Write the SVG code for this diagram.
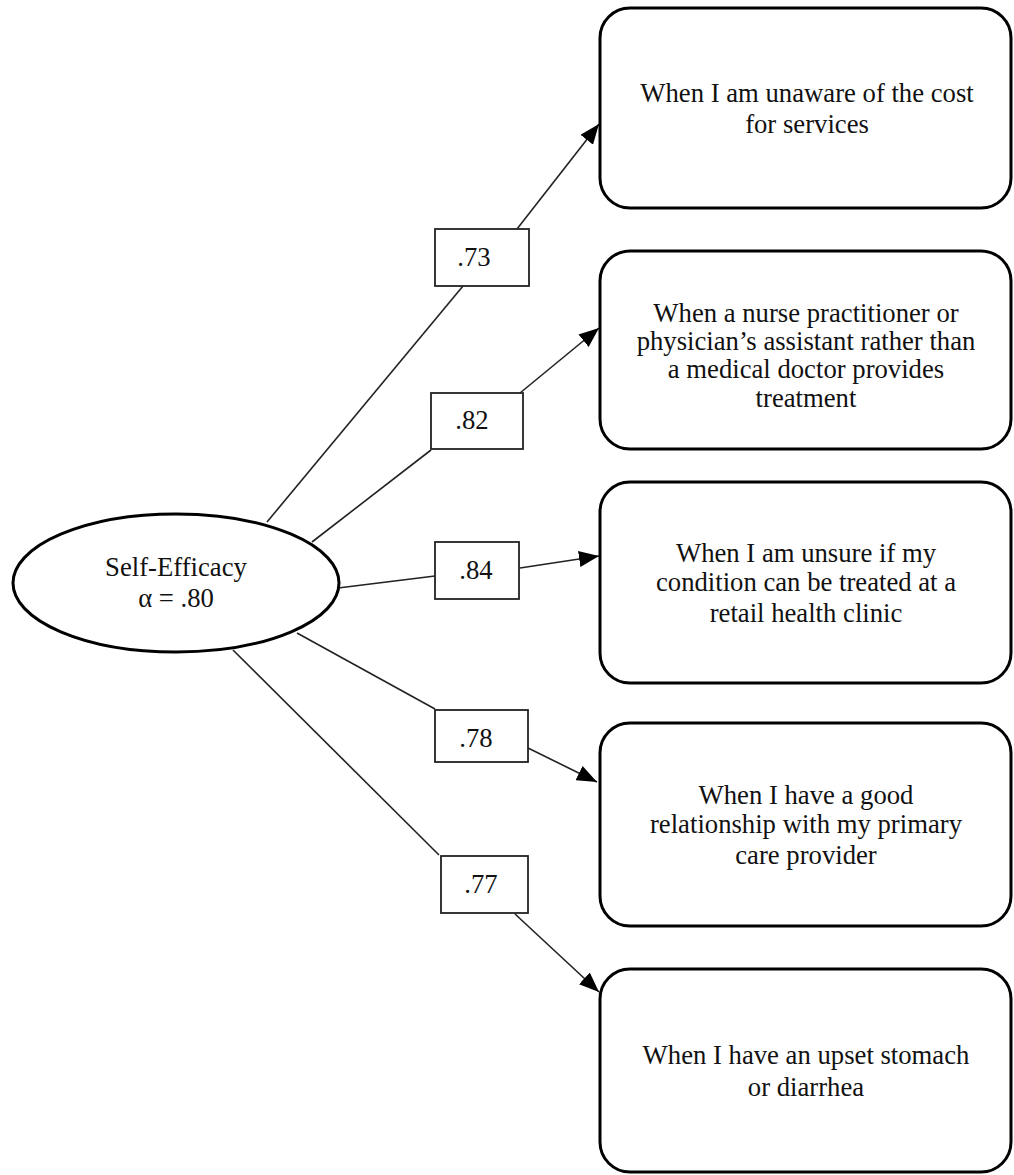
<svg xmlns="http://www.w3.org/2000/svg" width="1014" height="1175" viewBox="0 0 1014 1175">
<style>
  text { font-family: "Liberation Serif", "Times New Roman", serif; font-size: 26.7px; fill: #111; text-anchor: middle; }
  .item { fill: #fff; stroke: #000; stroke-width: 3; }
  .latent { fill: #fff; stroke: #000; stroke-width: 3; }
  .lbl { fill: #fff; stroke: #222; stroke-width: 1.8; }
  .conn { stroke: #222; stroke-width: 1.6; fill: none; }
</style>
<defs>
  <marker id="arrow" markerUnits="userSpaceOnUse" markerWidth="20" markerHeight="16" refX="20" refY="8" orient="auto">
    <path d="M0,0 L20,8 L0,16 z" fill="#000"/>
  </marker>
</defs>
<rect width="1014" height="1175" fill="#fff"/>

<g id="connectors">
  <line class="conn" x1="267" y1="522" x2="463" y2="286"/>
  <line class="conn" x1="517" y1="229" x2="599" y2="124" marker-end="url(#arrow)"/>
  <line class="conn" x1="312" y1="542" x2="431" y2="450"/>
  <line class="conn" x1="520" y1="393" x2="599" y2="328" marker-end="url(#arrow)"/>
  <line class="conn" x1="338" y1="588" x2="435" y2="576"/>
  <line class="conn" x1="520" y1="568" x2="599" y2="556" marker-end="url(#arrow)"/>
  <line class="conn" x1="297" y1="633" x2="435" y2="709"/>
  <line class="conn" x1="528" y1="748" x2="597" y2="782" marker-end="url(#arrow)"/>
  <line class="conn" x1="233" y1="650" x2="439" y2="855"/>
  <line class="conn" x1="515" y1="914" x2="599" y2="992" marker-end="url(#arrow)"/>
</g>

<g id="labels">
  <g id="label-73"><rect class="lbl" x="435" y="229" width="94" height="57"/><text x="474" y="266">.73</text></g>
  <g id="label-82"><rect class="lbl" x="431" y="393" width="92" height="56"/><text x="472" y="429">.82</text></g>
  <g id="label-84"><rect class="lbl" x="435" y="542" width="84" height="57"/><text x="476" y="579">.84</text></g>
  <g id="label-78"><rect class="lbl" x="435" y="710" width="93" height="52"/><text x="476" y="747">.78</text></g>
  <g id="label-77"><rect class="lbl" x="441" y="856" width="87" height="57"/><text x="481" y="893">.77</text></g>
</g>

<g id="self-efficacy">
  <ellipse class="latent" cx="176" cy="583" rx="163" ry="69"/>
  <text x="176" y="576">Self-Efficacy</text>
  <text x="176" y="607">α = .80</text>
</g>

<g id="item-cost">
  <rect class="item" x="600" y="8" width="411" height="200" rx="30" ry="30"/>
  <text x="807" y="102">When I am unaware of the cost</text>
  <text x="807" y="133">for services</text>
</g>

<g id="item-np">
  <rect class="item" x="600" y="251" width="411" height="198" rx="30" ry="30"/>
  <text x="806" y="322">When a nurse practitioner or</text>
  <text x="806" y="350">physician’s assistant rather than</text>
  <text x="806" y="378">a medical doctor provides</text>
  <text x="806" y="407">treatment</text>
</g>

<g id="item-unsure">
  <rect class="item" x="600" y="482" width="411" height="201" rx="30" ry="30"/>
  <text x="806" y="562">When I am unsure if my</text>
  <text x="806" y="591">condition can be treated at a</text>
  <text x="806" y="622">retail health clinic</text>
</g>

<g id="item-relationship">
  <rect class="item" x="600" y="723" width="411" height="203" rx="30" ry="30"/>
  <text x="806" y="804">When I have a good</text>
  <text x="806" y="833">relationship with my primary</text>
  <text x="806" y="864">care provider</text>
</g>

<g id="item-stomach">
  <rect class="item" x="600" y="969" width="411" height="203" rx="30" ry="30"/>
  <text x="806" y="1064">When I have an upset stomach</text>
  <text x="806" y="1096">or diarrhea</text>
</g>
</svg>
